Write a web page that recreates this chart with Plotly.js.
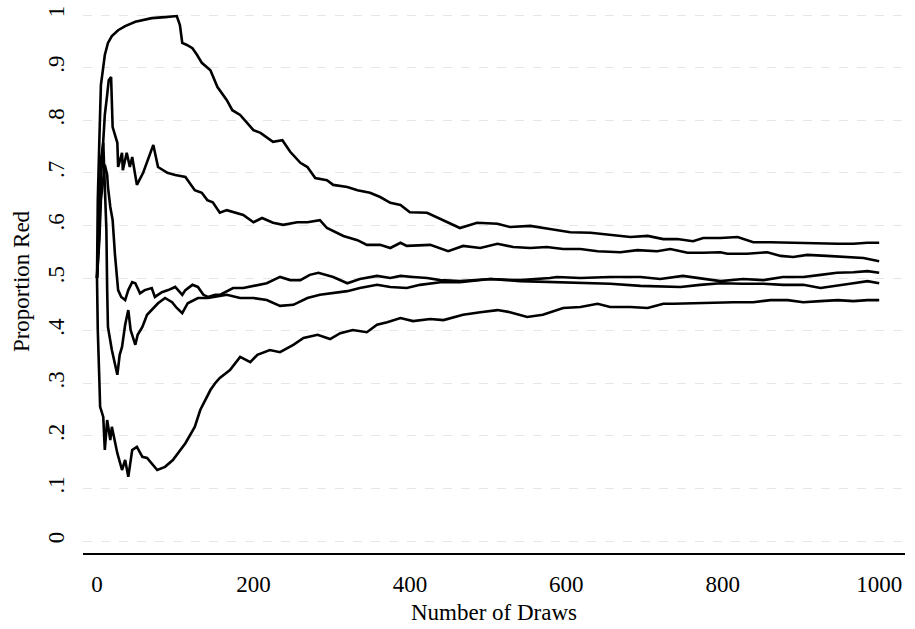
<!DOCTYPE html>
<html>
<head>
<meta charset="utf-8">
<script src="https://cdn.plot.ly/plotly-3.0.1.min.js"></script>
<style>html,body{margin:0;padding:0;background:#fff;}#chart{width:915px;height:629px;}</style>
</head>
<body>
<div id="chart"></div>
<script>
// Draw number (x) and proportion of red balls (y) for five urn runs
const xA = [0,1,3,4,5,8,10,14,19,27,36,49,70,87,102,106,109,115,122,128,134,145,154,166,173,183,200,209,225,237,247,260,269,279,294,302,320,333,349,362,375,388,400,422,443,464,486,512,528,554,579,605,631,656,682,704,724,742,762,775,797,819,839,861,883,903,925,947,967,985,1000];
const yA = [0.500,0.648,0.762,0.838,0.867,0.901,0.924,0.947,0.960,0.971,0.979,0.987,0.994,0.996,0.998,0.981,0.947,0.943,0.937,0.924,0.909,0.895,0.863,0.838,0.819,0.810,0.781,0.776,0.759,0.762,0.740,0.719,0.711,0.690,0.686,0.677,0.673,0.667,0.662,0.654,0.643,0.639,0.625,0.624,0.610,0.595,0.605,0.603,0.597,0.599,0.593,0.587,0.586,0.582,0.578,0.580,0.574,0.574,0.570,0.576,0.576,0.578,0.568,0.568,0.567,0.567,0.565,0.565,0.565,0.567,0.567];

const xB = [0,3,5,8,10,13,15,18,20,26,27,32,33,38,42,45,51,59,72,78,90,100,113,125,134,141,148,157,166,187,200,211,225,238,256,269,285,294,315,333,345,362,375,388,396,426,449,468,490,512,532,554,575,596,618,640,669,691,716,733,755,775,797,806,831,857,874,890,908,933,959,980,1000];
const yB = [0.500,0.591,0.686,0.762,0.810,0.848,0.876,0.882,0.787,0.757,0.711,0.738,0.705,0.738,0.711,0.730,0.677,0.700,0.753,0.711,0.700,0.696,0.692,0.667,0.662,0.648,0.644,0.624,0.629,0.620,0.606,0.614,0.605,0.601,0.606,0.606,0.610,0.595,0.580,0.572,0.563,0.563,0.557,0.567,0.561,0.563,0.551,0.561,0.557,0.565,0.559,0.557,0.559,0.555,0.555,0.551,0.549,0.553,0.551,0.555,0.548,0.548,0.549,0.546,0.546,0.549,0.542,0.540,0.544,0.542,0.540,0.538,0.532];

const xC = [0,3,5,8,9,12,13,14,19,23,26,29,32,36,40,43,49,52,58,64,70,78,87,96,102,109,116,129,142,151,166,183,200,217,234,251,269,285,302,320,336,358,375,396,413,430,439,464,503,541,579,618,656,695,733,746,771,797,826,852,877,903,925,946,967,985,1000];
const yC = [0.500,0.629,0.724,0.757,0.715,0.591,0.477,0.407,0.363,0.335,0.316,0.354,0.369,0.411,0.439,0.401,0.373,0.392,0.407,0.430,0.439,0.452,0.462,0.454,0.443,0.433,0.452,0.462,0.462,0.464,0.468,0.462,0.462,0.458,0.447,0.449,0.462,0.468,0.471,0.475,0.481,0.487,0.483,0.481,0.487,0.490,0.492,0.492,0.498,0.494,0.492,0.490,0.489,0.485,0.483,0.483,0.487,0.490,0.489,0.489,0.487,0.487,0.481,0.485,0.490,0.494,0.490];

const xD = [0,3,5,8,10,13,14,17,20,23,27,31,36,40,45,49,55,61,70,74,83,91,100,109,113,122,129,136,142,151,157,174,187,217,234,247,260,272,283,302,320,336,358,375,388,404,422,439,464,503,541,579,588,618,656,695,720,749,771,797,826,852,877,903,925,946,967,985,1000];
const yD = [0.500,0.572,0.648,0.686,0.715,0.696,0.673,0.635,0.610,0.544,0.477,0.464,0.458,0.477,0.492,0.490,0.471,0.477,0.481,0.464,0.473,0.477,0.483,0.468,0.477,0.487,0.483,0.468,0.464,0.468,0.468,0.481,0.481,0.490,0.502,0.496,0.496,0.506,0.510,0.502,0.490,0.498,0.504,0.500,0.504,0.502,0.500,0.496,0.494,0.498,0.496,0.500,0.502,0.500,0.502,0.502,0.498,0.504,0.500,0.494,0.498,0.496,0.502,0.502,0.506,0.510,0.511,0.513,0.510];

const xE = [0,1,3,4,8,10,13,17,19,26,32,36,40,45,51,58,64,77,87,97,113,125,132,138,145,151,157,170,183,196,205,221,234,251,264,282,298,311,327,345,358,371,388,404,426,443,468,490,512,528,550,570,596,618,640,656,682,704,724,737,762,788,814,839,861,883,903,925,947,967,985,1000];
const yE = [0.500,0.401,0.306,0.255,0.236,0.173,0.230,0.192,0.217,0.167,0.135,0.154,0.122,0.173,0.179,0.160,0.158,0.135,0.141,0.154,0.186,0.217,0.249,0.268,0.287,0.300,0.310,0.325,0.350,0.340,0.354,0.363,0.359,0.373,0.386,0.392,0.384,0.395,0.401,0.397,0.411,0.416,0.424,0.418,0.422,0.420,0.430,0.435,0.439,0.435,0.426,0.430,0.443,0.445,0.451,0.445,0.445,0.443,0.451,0.451,0.452,0.454,0.454,0.454,0.458,0.458,0.454,0.456,0.458,0.456,0.458,0.458];

const xTicks = [0, 200, 400, 600, 800, 1000];
const xTickText = ['0', '200', '400', '600', '800', '1000'];
const yTicks = [0, 0.1, 0.2, 0.3, 0.4, 0.5, 0.6, 0.7, 0.8, 0.9, 1];
const yTickText = ['0', '.1', '.2', '.3', '.4', '.5', '.6', '.7', '.8', '.9', '1'];

const FONT = '"Liberation Serif", "DejaVu Serif", serif';
const series = [[xA, yA], [xB, yB], [xC, yC], [xD, yD], [xE, yE]];
const traces = series.map(([x, y]) => ({
  x: x, y: y, type: 'scatter', mode: 'lines',
  line: {color: '#000', width: 2.6},
  hoverinfo: 'skip', showlegend: false
}));

const layout = {
  width: 915, height: 629,
  margin: {l: 83, r: 10, t: 10, b: 76},
  paper_bgcolor: '#fff', plot_bgcolor: '#fff',
  font: {family: FONT, color: '#000', size: 23},
  showlegend: false,
  xaxis: {
    range: [-17.9, 1033],
    tickvals: xTicks, ticktext: xTickText,
    showgrid: false, zeroline: false,
    showline: true, linecolor: '#000', linewidth: 2,
    ticks: '', ticklabelstandoff: 9,
    tickfont: {family: FONT, size: 23, color: '#000'},
    title: {text: 'Number of Draws', font: {family: FONT, size: 23, color: '#000'}, standoff: 8},
    automargin: false
  },
  yaxis: {
    range: [-0.0228, 1.0095],
    tickvals: yTicks, ticktext: yTickText,
    tickangle: -90,
    showgrid: true, gridcolor: '#e6e6e6', gridwidth: 1, griddash: 'dash',
    zeroline: false, showline: false,
    ticks: '', ticklabelstandoff: 13,
    tickfont: {family: FONT, size: 23, color: '#000'},
    title: {text: 'Proportion Red', font: {family: FONT, size: 23, color: '#000'}, standoff: 8},
    automargin: false
  }
};

Plotly.newPlot('chart', traces, layout, {staticPlot: true, displayModeBar: false});
</script>
</body>
</html>
